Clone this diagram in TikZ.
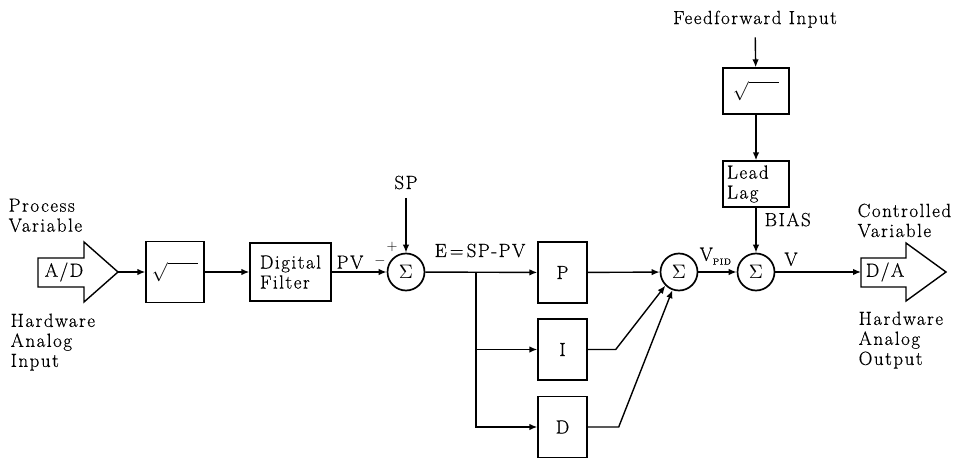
\documentclass[tikz,border=0pt]{standalone}
\usepackage{fontspec}
\setmainfont{Latin Modern Roman}[LetterSpace=8, FakeBold=0.5]
\usetikzlibrary{arrows.meta,positioning}

\newcommand{\sumsign}{{\normalsize\scalebox{1.95}{$\Sigma$}}}
\newcommand{\rootsign}{{\normalsize\scalebox{1.9}{$\sqrt{\vphantom{b}\hspace{16pt}}$}}}

\begin{document}
\begin{tikzpicture}[
    x=1pt,
    y=-1pt,
    line width=1.4pt,
    font=\fontsize{19}{20}\selectfont,
    blk/.style={draw, inner sep=3pt, minimum width=58pt, minimum height=61pt, align=left},
    sumnode/.style={draw, circle, inner sep=0pt, minimum size=37pt, line width=1.7pt},
    lbl/.style={inner sep=0pt, align=left},
    sgn/.style={inner sep=0pt, font=\fontsize{14}{14}\selectfont},
    arr/.style={-{Latex[length=8pt,width=6.5pt]}}
]
\useasboundingbox (0,0) rectangle (956,460);

% converters
\coordinate (adtip) at (118,272);
\coordinate (dain) at (861,272);
\draw (38,258) -- (84,258) -- (84,242) -- (adtip) -- (84,302) -- (84,287) -- (38,287) -- cycle;
\draw (dain |- 0,258) -- (906,258) -- (906,243) -- (946,272) -- (906,301) -- (906,287) -- (861,287) -- cycle;
\node (adlbl) at (64,272) {A/D};
\node (dalbl) at (885,272) {D/A};

% blocks
\node[blk] (sqa) at (175,272) {\rootsign};
\node[blk, minimum width=81pt, minimum height=58pt] (filt) at (290.5,272) {Digital\\Filter};
\node[sumnode] (sa) at (406,272) {\sumsign};
\node[blk, minimum width=49pt] (kp) at (562.5,272.5) {P};
\node[blk, minimum width=49pt] (ki) at (562.5,349.5) {I};
\node[blk, minimum width=49pt] (kd) at (562.5,427) {D};
\node[sumnode] (sb) at (679,272) {\sumsign};
\node[sumnode] (sc) at (756,272) {\sumsign};
\node[blk, minimum width=66pt, minimum height=46pt] (sqb) at (756,91) {\rootsign};
\node[blk, minimum width=66pt, minimum height=46pt, text width=58pt] (ll) at (756,184) {Lead\\Lag};

% labels
\node[lbl, anchor=north west] (pvar) at (8,198) {Process\\Variable};
\node[lbl, anchor=north west] (hwin) at (10,313) {Hardware\\Analog\\Input};
\node[lbl, anchor=north west] (cvar) at (857,203) {Controlled\\Variable};
\node[lbl, anchor=north west] (hwout) at (858,311) {Hardware\\Analog\\Output};
\node[lbl, anchor=north] (ff) at (755,10) {Feedforward Input};
\node[lbl, anchor=north] (sp) at (406,175) {SP};
\node[lbl, anchor=north] (pv) at (350,255) {PV};
\node[sgn] (plus) at (392,247) {$+$};
\node[sgn] (minus) at (380,261) {$-$};
\node[lbl, anchor=north] (err) at (480,243) {E\,=\,SP-PV};
\node[lbl, anchor=north west] (vpid) at (699,247) {V\raisebox{-4pt}{\fontsize{9}{9}\selectfont PID}};
\node[lbl, anchor=north] (vout) at (791,252) {V};
\node[lbl, anchor=north west] (bias) at (764,212) {BIAS};

% signal lines
\coordinate (br) at (476,272);
\draw[arr] (adtip) -- (sqa);
\draw[arr] (sqa) -- (filt);
\draw[arr] (filt) -- (sa);
\draw[arr, shorten <=8pt] (sp) -- (sa);
\draw[arr] (sa) -- (kp);
\draw[arr] (br) |- (ki);
\draw[arr] (br) |- (kd);
\draw[arr] (kp) -- (sb);
\draw[arr] (ki.east) -- ++(28,0) -- (sb.225);
\draw[arr] (kd.east) -- ++(31,0) -- (sb.250);
\draw[arr] (sb) -- (sc);
\draw[arr, shorten <=9pt] (ff) -- (sqb);
\draw[arr] (sqb) -- (ll);
\draw[arr] (ll) -- (sc);
\draw[arr] (sc) -- (dain);
\end{tikzpicture}
\end{document}
